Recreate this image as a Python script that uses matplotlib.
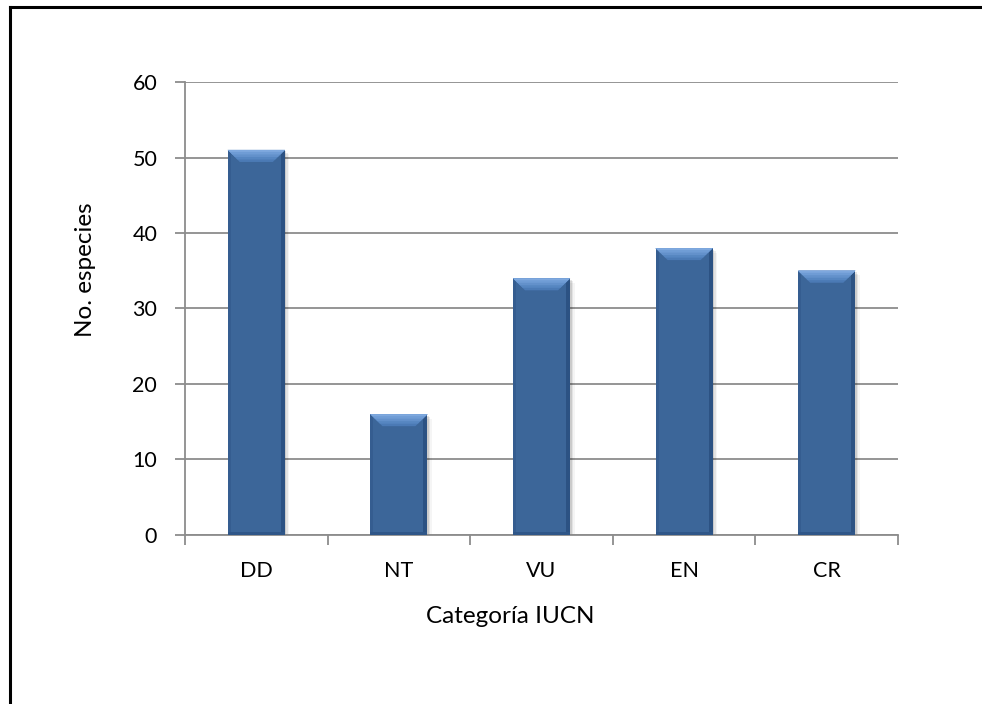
import matplotlib.pyplot as plt
from matplotlib.patches import Polygon, Rectangle
from matplotlib.lines import Line2D

categories = ["DD", "NT", "VU", "EN", "CR"]
species = [51, 16, 34, 38, 35]

plt.rcParams['font.family'] = ['Lato', 'DejaVu Sans']

BAR_COLOR = "#3c6699"
GRID = "#8c8c8c"
WIDTH = 0.4

fig = plt.figure(figsize=(9.82, 7.04), dpi=100)
ax = fig.add_axes([0.1884, 0.2401, 0.7261, 0.6434])

x_loc = list(range(len(categories)))
ax.set_xlim(-0.5, len(categories) - 0.5)
ax.set_ylim(0, 60)

# pixel -> data scale, used for the bevel and shadow sizes
fig.canvas.draw()
bbox = ax.get_window_extent()
px_x = (len(categories)) / bbox.width
px_y = 60 / bbox.height

bars = ax.bar(x_loc, species, width=WIDTH, color=BAR_COLOR, zorder=3)

for b in bars:
    x0, w, h = b.get_x(), b.get_width(), b.get_height()
    x1 = x0 + w
    # soft drop shadow to the right and below
    for k, a in enumerate([0.10, 0.07, 0.04]):
        off = (k + 1) * 1.5
        ax.add_patch(Rectangle((x0 + off * px_x, -off * px_y), w, h,
                               color="#000000", alpha=a, lw=0, zorder=2))
    # right edge (darker)
    ax.add_patch(Polygon([(x1, h), (x1, 0), (x1 - 4 * px_x, 0), (x1 - 4 * px_x, h - 4 * px_y)],
                         closed=True, color="#2c5283", lw=0, zorder=4))
    # left edge (slightly darker)
    ax.add_patch(Polygon([(x0, h), (x0, 0), (x0 + 3 * px_x, 0), (x0 + 3 * px_x, h - 3 * px_y)],
                         closed=True, color="#355d90", lw=0, zorder=4))
    # bottom edge
    ax.add_patch(Rectangle((x0, 0), w, 3 * px_y, color="#2f5688", lw=0, zorder=4))
    # top bevel, lighter towards the top edge
    steps = [(12, "#4b7ab5"), (9.5, "#5686c1"), (7, "#6391cb"), (4.5, "#6f9cd5"), (2, "#7ea8de")]
    for s, c in steps:
        ax.add_patch(Polygon([(x0, h), (x1, h), (x1 - s * px_x, h - s * px_y), (x0 + s * px_x, h - s * px_y)],
                             closed=True, color=c, lw=0, zorder=5))

ax.set_yticks(range(0, 61, 10))
ax.yaxis.grid(True, color=GRID, linewidth=1.3, zorder=0)
ax.set_axisbelow(True)

# category boundaries carry the x ticks
ax.set_xticks([i - 0.5 for i in range(len(categories) + 1)])
ax.set_xticklabels([])
ax.set_xticks(x_loc, minor=True)
ax.set_xticklabels(categories, minor=True)
ax.tick_params(axis='x', which='major', direction='out', length=7, width=1.3, color=GRID)
ax.tick_params(axis='x', which='minor', length=0, pad=19, labelsize=15.5)
ax.tick_params(axis='y', direction='out', length=7, width=1.3, color=GRID, pad=13, labelsize=15.5)

for side in ["top", "right"]:
    ax.spines[side].set_visible(False)
for side in ["left", "bottom"]:
    ax.spines[side].set_color(GRID)
    ax.spines[side].set_linewidth(1.3)

ax.set_ylabel("No. especies", fontsize=17.5)
ax.set_xlabel("Categoría IUCN", fontsize=17.5)
ax.yaxis.set_label_coords(-0.125, 0.585)
ax.xaxis.set_label_coords(0.456, -0.156)

# outer frame (left and top edges)
fig.add_artist(Line2D([0.0105, 0.0105], [0, 0.990], transform=fig.transFigure, color="black", lw=2.2))
fig.add_artist(Line2D([0.0105, 1.0], [0.990, 0.990], transform=fig.transFigure, color="black", lw=2.2))

plt.savefig("out.png", dpi=100)
